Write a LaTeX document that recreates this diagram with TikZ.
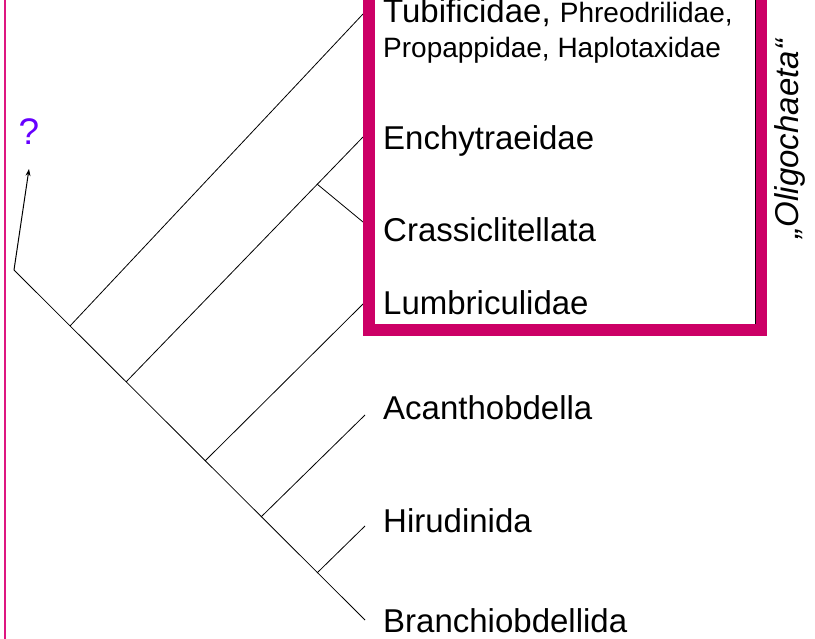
\documentclass[tikz,border=0pt]{standalone}
\usepackage{fontspec}
\setmainfont{Liberation Sans}
\usepackage{xcolor}
\usepackage{tikz}
\usetikzlibrary{positioning, arrows.meta}
\definecolor{oligo}{RGB}{204,0,102}
\definecolor{edgepink}{RGB}{222,22,128}
\definecolor{query}{RGB}{102,0,255}

\begin{document}
\begin{tikzpicture}[x=1pt, y=-1pt, >={Stealth[length=7pt, width=5pt]}, branch/.style={line width=0.8pt}, taxon/.style={anchor=base west, inner sep=0pt, font=\fontsize{33}{40}\selectfont}, minor/.style={font=\fontsize{28}{34}\selectfont}]
        \useasboundingbox (0,0) rectangle (815,639);
        \draw[edgepink, line width=2.5pt] (5,-5) -- (5,645);

        % inner nodes of the tree
        \coordinate (ROOT) at (14,270);
        \coordinate (N1) at (70,326);
        \coordinate (N2) at (126,382);
        \coordinate (N3) at (317,184);
        \coordinate (N4) at (205,461);
        \coordinate (N5) at (261,517);
        \coordinate (N6) at (317,573);
        \coordinate (UP) at (29,169);
        % tips
        \coordinate (TUBI) at (363,14);
        \coordinate (ENCH) at (363,137);
        \coordinate (CRAS) at (363,222);
        \coordinate (LUMB) at (363,304);
        \coordinate (ACAN) at (365,415);
        \coordinate (HIRU) at (365,526);
        \coordinate (BRAN) at (365,620);

        \path[branch] (ROOT) edge (BRAN)
              (N1) edge (TUBI)
              (N2) edge (ENCH)
              (N3) edge (CRAS)
              (N4) edge (LUMB)
              (N5) edge (ACAN)
              (N6) edge (HIRU);
        \draw[->, line width=1pt] (ROOT) -- (UP);
        \node[taxon, anchor=center, text=query, font=\fontsize{37}{44}\selectfont] (QUERY) at (29,132) {?};

        % Oligochaeta box
        \draw[oligo, line width=12pt] (369,-20) rectangle (761,330);
        \draw[line width=0.8pt] (755,-5) -- (755,324);
        \node[taxon, rotate=90, anchor=center, font=\fontsize{33}{40}\selectfont\itshape] (OLIGO) at (790,139) {„Oligochaeta“};

        \node[taxon] (TUBIL) at (383,23) {Tubificidae, {\fontsize{28}{34}\selectfont Phreodrilidae,}};
        \node[taxon, minor] (PROPL) at (383,58) {Propappidae, Haplotaxidae};
        \node[taxon] (ENCHL) at (383,150) {Enchytraeidae};
        \node[taxon] (CRASL) at (383,242) {Crassiclitellata};
        \node[taxon] (LUMBL) at (383,315) {Lumbriculidae};
        \node[taxon] (ACANL) at (383,420) {Acanthobdella};
        \node[taxon] (HIRUL) at (383,532) {Hirudinida};
        \node[taxon] (BRANL) at (383,632) {Branchiobdellida};
\end{tikzpicture}
\end{document}
